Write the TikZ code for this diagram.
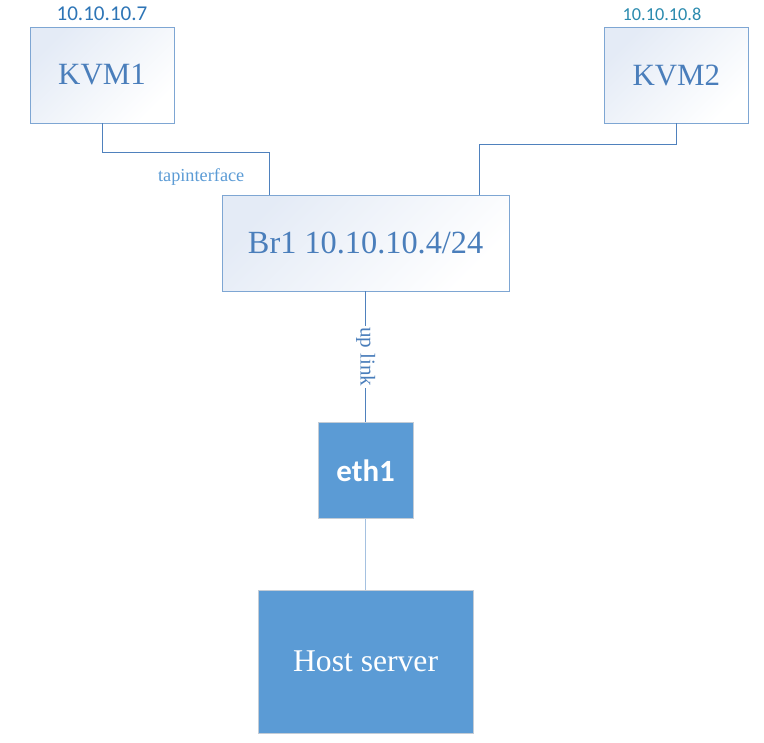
\documentclass[tikz,border=0pt]{standalone}
\usepackage{fontspec}
\setmainfont{Liberation Serif}
\newfontfamily\calibri{Carlito}
\definecolor{boxedge}{HTML}{7EA6D3}
\definecolor{boxshade}{HTML}{E4EBF6}
\definecolor{wire}{HTML}{4F81BD}
\definecolor{vmtext}{HTML}{4A7EBB}
\definecolor{iplabel}{HTML}{2E75B6}
\definecolor{iplabelb}{HTML}{2A8AAE}
\definecolor{tapcol}{HTML}{5B9BD5}
\definecolor{hostfill}{HTML}{5B9BD5}
\definecolor{hostedge}{HTML}{C3CCD6}

\begin{document}
\begin{tikzpicture}[
  vm/.style={draw=boxedge, line width=0.7pt, top color=white, bottom color=boxshade, shading angle=-135,
    text=vmtext, font=\fontsize{22}{26}\selectfont, inner sep=0pt},
  phys/.style={draw=hostedge, line width=0.7pt, fill=hostfill, text=white, inner sep=0pt},
  link/.style={draw=wire, line width=0.7pt}
]
\useasboundingbox (0,0) rectangle (19.1,-18.55);

\node[vm, minimum width=3.6cm, minimum height=2.4cm] (kvmA) at (2.55,-1.875) {KVM1};
\node[vm, minimum width=3.58cm, minimum height=2.4cm] (kvmB) at (16.91,-1.875) {KVM2};
\node[vm, minimum width=7.18cm, minimum height=2.4cm, font=\fontsize{23}{27}\selectfont] (brA) at (9.14,-6.075) {Br1 10.10.10.4/24};
\node[phys, minimum width=2.38cm, minimum height=2.38cm, font=\calibri\bfseries\fontsize{22}{26}\selectfont] (ethA) at (9.14,-11.76) {eth1};
\node[phys, minimum width=5.38cm, minimum height=3.58cm, font=\fontsize{22.5}{26}\selectfont] (host) at (9.14,-16.54) {Host server};

\node[text=iplabel, font=\calibri\fontsize{15}{18}\selectfont] (ipA) at (2.55,-0.35) {10.10.10.7};
\node[text=iplabelb, font=\calibri\fontsize{13}{16}\selectfont] (ipB) at (16.55,-0.35) {10.10.10.8};
\node[text=tapcol, font=\fontsize{13}{15}\selectfont] (tap) at (5.03,-4.43) {tapinterface};

\draw[link] (kvmA.south) -- ++(0,-0.725) -| ([xshift=1.2cm]brA.north west);
\draw[link] (kvmB.south) -- ++(0,-0.525) -| ([xshift=-0.75cm]brA.north east);
\draw[link] (brA.south) -- node[fill=white, rotate=-90, inner sep=1pt, text=vmtext, font=\fontsize{15}{17}\selectfont] (up) {up link} (ethA.north);
\draw[link, draw=boxedge!70] (ethA.south) -- (host.north);

\end{tikzpicture}
\end{document}
